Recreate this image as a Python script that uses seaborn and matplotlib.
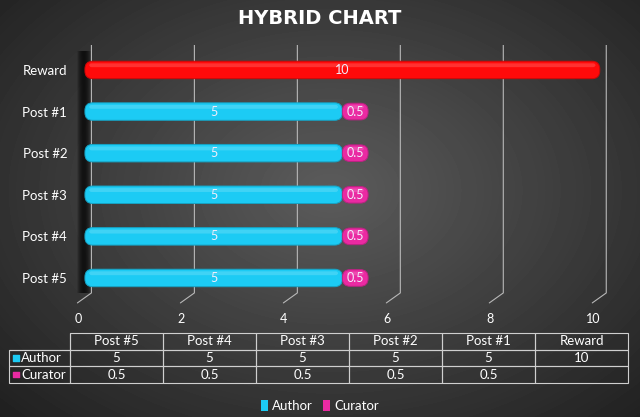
import numpy as np
import pandas as pd
import matplotlib
matplotlib.use("Agg")
import matplotlib.pyplot as plt
import seaborn as sns
from matplotlib.patches import FancyBboxPatch, Patch
from matplotlib.transforms import ScaledTranslation

categories = ["Reward", "Post #1", "Post #2", "Post #3", "Post #4", "Post #5"]
author = [10, 5, 5, 5, 5, 5]
curator = [np.nan, 0.5, 0.5, 0.5, 0.5, 0.5]
table_cols = ["Post #5", "Post #4", "Post #3", "Post #2", "Post #1", "Reward"]
x_ticks = [0, 2, 4, 6, 8, 10]
series_names = ["Author", "Curator"]

RED = "#ff0a0a"
CYAN = "#1ccbf4"
PINK = "#ea2aa2"

sns.set_theme(style="dark")
plt.rcParams['font.family'] = ['Lato', 'DejaVu Sans']

W, H = 640, 417
fig = plt.figure(figsize=(6.4, 4.17), dpi=100)

# background gradient
bg = fig.add_axes([0, 0, 1, 1])
bg.axis('off')
yy, xx = np.mgrid[0:H, 0:W]
r = np.sqrt(((xx - 330) / 430) ** 2 + ((yy - 190) / 300) ** 2)
v = np.clip(0.36 - 0.22 * r, 0.09, 0.4)
bg.imshow(v, cmap='gray', vmin=0, vmax=1, extent=[0, W, H, 0], aspect='auto', zorder=-10)
bg.set_xlim(0, W)
bg.set_ylim(H, 0)


def px_axes(x0, y0, x1, y1):
    return fig.add_axes([x0 / W, 1 - y1 / H, (x1 - x0) / W, (y1 - y0) / H])


ax = px_axes(70, 45, 625, 305)
ax.set_facecolor('none')

df = pd.DataFrame({"category": categories, "author": author, "curator": curator})
df["total"] = df["author"] + df["curator"]

sns.barplot(data=df, y="category", x="author", hue="category",
            palette=[RED] + [CYAN] * 5, order=categories, width=0.42,
            legend=False, ax=ax, orient='h', saturation=1)
author_rects = list(ax.patches)
n0 = len(author_rects)
sns.barplot(data=df.dropna(), y="category", x="total", order=categories,
            color=PINK, width=0.4, ax=ax, orient='h', saturation=1)
curator_rects = list(ax.patches)[n0:]

XL = (-0.29, 10.49)
YL = (5.65, -0.6)

author_end = {}
for rect in author_rects:
    w = rect.get_width()
    if not np.isfinite(w) or w == 0:
        continue
    row = int(round(rect.get_y() + rect.get_height() / 2))
    author_end[row] = rect.get_x() + w

for rect in curator_rects:
    w = rect.get_width()
    if not np.isfinite(w) or w == 0:
        continue
    row = int(round(rect.get_y() + rect.get_height() / 2))
    start = author_end[row]
    rect.set_x(start)
    rect.set_width(w - start)

asp = (8 / 41.6) / (8 / 51.5)


def darker(c, f=0.8):
    rgb = np.array(matplotlib.colors.to_rgb(c))
    return tuple(rgb * f)


def fancy(rect, labels):
    w = rect.get_width()
    if not np.isfinite(w) or w == 0:
        rect.set_visible(False)
        return
    rect.set_visible(False)
    x, y, h = rect.get_x(), rect.get_y(), rect.get_height()
    fc = rect.get_facecolor()
    p = FancyBboxPatch((x, y), w, h, boxstyle="round,pad=0,rounding_size=0.15",
                       mutation_aspect=asp, fc=fc, ec=darker(fc), lw=0.7, zorder=3)
    ax.add_patch(p)
    # glossy highlight
    hl = FancyBboxPatch((x + 0.08, y + h * 0.12), max(w - 0.16, 0.02), h * 0.22,
                        boxstyle="round,pad=0,rounding_size=0.05",
                        mutation_aspect=asp, fc='white', ec='none', alpha=0.16, zorder=4)
    ax.add_patch(hl)
    row = int(round(y + h / 2))
    ax.text(x + w / 2, y + h / 2, labels[row], ha='center', va='center',
            color='#f2eefc', fontsize=9, zorder=5)


def fmt(v):
    if v is None or (isinstance(v, float) and np.isnan(v)):
        return ""
    return f"{v:g}"


for rect in author_rects:
    fancy(rect, [fmt(a) for a in author])
for rect in curator_rects:
    fancy(rect, [fmt(c) for c in curator])

# gridlines with 3D floor
for t in x_ticks:
    ax.plot([t + 0.126, t + 0.126, t - 0.146], [-0.6, 5.36, 5.6],
            color='#b8b8b8', lw=0.8, zorder=1)

# dark left wall shadow
xs = np.linspace(0, 1, 60)
alpha = 0.7 * np.sin(xs * np.pi) ** 0.8
shade = np.zeros((1, 60, 4))
shade[0, :, 3] = alpha
ax.imshow(shade, extent=[-0.16, 0.1, 5.36, -0.45], aspect='auto', zorder=2,
          interpolation='bilinear')

ax.set_xlim(*XL)
ax.set_ylim(*YL)
ax.set_xticks(x_ticks)
ax.set_xticklabels([str(t) for t in x_ticks])
ax.tick_params(axis='x', length=0, pad=6, labelcolor='white', labelsize=9)
ax.tick_params(axis='y', length=0, pad=2, labelcolor='white', labelsize=9.5)
off = ScaledTranslation(-7 / 100, 0, fig.dpi_scale_trans)
for lab in ax.get_xticklabels():
    lab.set_transform(lab.get_transform() + off)
ax.set_xlabel("")
ax.set_ylabel("")
ax.grid(False)
for s in ax.spines.values():
    s.set_visible(False)

# title
fig.text(0.5, 1 - 19 / H, "HYBRID CHART", ha='center', va='center', color='white',
         fontsize=14, fontweight='bold', family=['DejaVu Sans'])

# data table
tax = px_axes(9, 333, 628, 383)
tax.axis('off')
rev_author = author[::-1]
rev_curator = curator[::-1]
cells = [[""] + table_cols,
         [series_names[0]] + [fmt(v) for v in rev_author],
         [series_names[1]] + [fmt(v) for v in rev_curator]]
tbl = tax.table(cellText=cells, colWidths=[61 / 619] + [93 / 619] * 6,
                bbox=[0, 0, 1, 1], cellLoc='center')
tbl.auto_set_font_size(False)
tbl.set_fontsize(9.5)
for (rr, cc), cell in tbl.get_celld().items():
    cell.set_facecolor('none')
    cell.set_edgecolor('#cfcfcf')
    cell.set_linewidth(0.8)
    cell.get_text().set_color('white')
    if cc == 0 and rr > 0:
        cell._loc = 'left'
        cell.PAD = 0.2
        cell.get_text().set_ha('left')
tbl[0, 0].visible_edges = 'BR'
tax.scatter([7 / 619, 7 / 619], [0.5, 1 / 6], marker='s', s=14,
            c=[CYAN, PINK], transform=tax.transAxes, zorder=5, clip_on=False)

# legend
handles = [Patch(fc=CYAN, ec='none'), Patch(fc=PINK, ec='none')]
fig.legend(handles, series_names, loc='center', bbox_to_anchor=(0.5, 1 - 406 / H),
           ncol=2, frameon=False, labelcolor='white', fontsize=9.5,
           handlelength=0.5, handleheight=0.9, handletextpad=0.3, columnspacing=0.8)

fig.savefig("out.png", dpi=100)
